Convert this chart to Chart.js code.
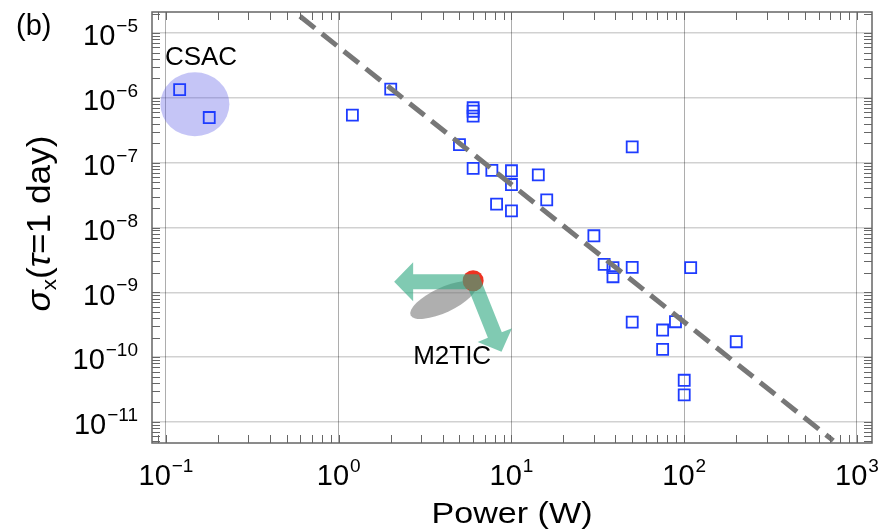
<!DOCTYPE html>
<html>
<head>
<meta charset="utf-8">
<script src="https://cdn.jsdelivr.net/npm/chart.js@4"></script>
<style>
  html, body { margin: 0; padding: 0; background: #fff; }
</style>
</head>
<body>
<canvas id="chart" width="893" height="532"></canvas>
<script>
// clock data: power (W) vs Allan deviation at tau = 1 day
const powerW = [0.12, 0.178, 1.2, 2.0, 6, 6, 6, 5, 6, 7.7, 10, 10, 14.3, 8.2, 10, 16,
                50, 30, 34.4, 38.7, 38.7, 50, 109, 50, 75, 89, 75, 200, 100, 100];
const sigmaDay = [1.34e-6, 4.97e-7, 5.4e-7, 1.36e-6, 7.03e-7, 6.22e-7, 5.21e-7, 1.9e-7, 8.15e-8, 7.6e-8,
                  7.5e-8, 4.6e-8, 6.5e-8, 2.3e-8, 1.8e-8, 2.67e-8, 1.75e-7, 7.45e-9, 2.7e-9, 2.4e-9,
                  1.74e-9, 2.43e-9, 2.4e-9, 3.48e-10, 2.62e-10, 3.52e-10, 1.32e-10, 1.73e-10, 4.4e-11, 2.62e-11];

// dashed trend line
const trendPower = [0.597, 729];
const trendSigma = [1.81e-5, 5.16e-12];

// M2TIC target and its spread
const m2ticPower = [6.0];
const m2ticSigma = [1.51e-9];
const spreadPower = [4.03];
const spreadSigma = [7.6e-10];

// CSAC group
const csacPower = [0.147];
const csacSigma = [7.96e-7];

// axis decades and labels
const xDecades = [0.1, 1, 10, 100, 1000];
const xExponents = ['\u22121', '0', '1', '2', '3'];
const yDecades = [1e-5, 1e-6, 1e-7, 1e-8, 1e-9, 1e-10, 1e-11];
const yExponents = ['\u22125', '\u22126', '\u22127', '\u22128', '\u22129', '\u221210', '\u221211'];

const FONT = '"Liberation Sans", Arial, sans-serif';

function minorValues(min, max) {
    const out = [];
    for (let e = Math.floor(Math.log10(min)); e <= Math.ceil(Math.log10(max)); e++) {
        for (let m = 1; m <= 9; m++) {
            const v = m * Math.pow(10, e);
            if (v >= min && v <= max) out.push(v);
        }
    }
    return out;
}

// arrow polygon, same winding for every direction
function arrowPath(ctx, x0, y0, ux, uy, back, len, headLen, shaftHalf, headHalf) {
    const px = -uy, py = ux;
    const pt = (a, b) => [x0 + ux * a + px * b, y0 + uy * a + py * b];
    const pts = [
        pt(-back, -shaftHalf), pt(len - headLen, -shaftHalf), pt(len - headLen, -headHalf),
        pt(len, 0), pt(len - headLen, headHalf), pt(len - headLen, shaftHalf), pt(-back, shaftHalf)
    ];
    ctx.moveTo(pts[0][0], pts[0][1]);
    for (let i = 1; i < pts.length; i++) ctx.lineTo(pts[i][0], pts[i][1]);
    ctx.closePath();
}

const decorations = {
    id: 'decorations',
    beforeDatasetsDraw(chart) {
        const {ctx, chartArea, scales: {x, y}} = chart;
        ctx.save();
        ctx.beginPath();
        ctx.rect(chartArea.left, chartArea.top, chartArea.right - chartArea.left, chartArea.bottom - chartArea.top);
        ctx.clip();
        // CSAC blob
        ctx.fillStyle = 'rgba(90,90,230,0.35)';
        ctx.beginPath();
        ctx.ellipse(x.getPixelForValue(csacPower[0]), y.getPixelForValue(csacSigma[0]), 34.5, 32, 0, 0, Math.PI * 2);
        ctx.fill();
        // M2TIC spread
        ctx.fillStyle = 'rgba(110,110,110,0.55)';
        ctx.beginPath();
        ctx.ellipse(x.getPixelForValue(spreadPower[0]), y.getPixelForValue(spreadSigma[0]), 36, 12.5, -25 * Math.PI / 180, 0, Math.PI * 2);
        ctx.fill();
        ctx.restore();
    },
    afterDatasetsDraw(chart) {
        const {ctx, scales: {x, y}} = chart;
        const ax = x.getPixelForValue(m2ticPower[0]);
        const ay = y.getPixelForValue(m2ticSigma[0]);
        ctx.save();
        ctx.fillStyle = 'rgba(50,170,130,0.62)';
        ctx.beginPath();
        arrowPath(ctx, ax, ay + 1, -1, 0, 4, 79, 19, 7.5, 19.5);
        arrowPath(ctx, ax, ay, 0.371, 0.928, 4, 76.5, 18, 7.5, 18.5);
        ctx.fill('nonzero');
        ctx.restore();
    },
    afterDraw(chart) {
        const {ctx, chartArea: a, scales: {x, y}} = chart;
        ctx.save();

        // minor ticks on all four sides
        ctx.strokeStyle = '#666';
        ctx.lineWidth = 1;
        ctx.beginPath();
        minorValues(x.min, x.max).forEach(v => {
            const px = Math.round(x.getPixelForValue(v)) + 0.5;
            ctx.moveTo(px, a.bottom); ctx.lineTo(px, a.bottom - 8);
            ctx.moveTo(px, a.top); ctx.lineTo(px, a.top + 8);
        });
        minorValues(y.min, y.max).forEach(v => {
            const py = Math.round(y.getPixelForValue(v)) + 0.5;
            ctx.moveTo(a.left, py); ctx.lineTo(a.left + 8, py);
            ctx.moveTo(a.right, py); ctx.lineTo(a.right - 8, py);
        });
        ctx.stroke();

        // frame
        ctx.strokeStyle = '#666';
        ctx.lineWidth = 1.5;
        ctx.strokeRect(a.left, a.top, a.right - a.left, a.bottom - a.top);

        ctx.fillStyle = '#000';
        ctx.textBaseline = 'alphabetic';

        // x tick labels
        xDecades.forEach((v, i) => {
            const px = x.getPixelForValue(v);
            ctx.font = '29px ' + FONT;
            const w1 = ctx.measureText('10').width;
            ctx.font = '19px ' + FONT;
            const w2 = ctx.measureText(xExponents[i]).width;
            const left = px - (w1 + 1 + w2) / 2;
            ctx.textAlign = 'left';
            ctx.font = '29px ' + FONT;
            ctx.fillText('10', left, 485);
            ctx.font = '19px ' + FONT;
            ctx.fillText(xExponents[i], left + w1 + 1, 471.5);
        });

        // y tick labels
        yDecades.forEach((v, i) => {
            const py = y.getPixelForValue(v);
            ctx.font = '19px ' + FONT;
            const w2 = ctx.measureText(yExponents[i]).width;
            ctx.textAlign = 'right';
            ctx.fillText(yExponents[i], 138, py - 1);
            ctx.font = '29px ' + FONT;
            ctx.fillText('10', 138 - w2 - 1, py + 12.3);
        });

        // x title
        ctx.font = '29px ' + FONT;
        const xt = 'Power (W)';
        const xw = ctx.measureText(xt).width;
        ctx.save();
        ctx.translate((a.left + a.right) / 2, 523);
        ctx.scale(161 / xw, 1);
        ctx.textAlign = 'center';
        ctx.fillText(xt, 0, 0);
        ctx.restore();

        // y title: sigma_x(tau=1 day)
        const parts = [
            {t: '\u03c3', f: 'italic 33px ' + FONT, dy: 0},
            {t: 'x', f: '21px ' + FONT, dy: 6},
            {t: '(', f: '33px ' + FONT, dy: 0},
            {t: '\u03c4', f: 'italic 33px ' + FONT, dy: 0},
            {t: '=1 day)', f: '33px ' + FONT, dy: 0}
        ];
        let total = 0;
        parts.forEach(p => { ctx.font = p.f; p.w = ctx.measureText(p.t).width; total += p.w; });
        ctx.save();
        ctx.translate(50, 223.5);
        ctx.rotate(-Math.PI / 2);
        ctx.scale(176 / total, 1);
        ctx.textAlign = 'left';
        let cx = -total / 2;
        parts.forEach(p => { ctx.font = p.f; ctx.fillText(p.t, cx, p.dy); cx += p.w; });
        ctx.restore();

        // panel letter and annotations
        ctx.textAlign = 'left';
        ctx.font = '29px ' + FONT;
        ctx.fillText('(b)', 16, 35);
        ctx.font = '26px ' + FONT;
        ctx.fillText('CSAC', x.getPixelForValue(csacPower[0]) - 30, y.getPixelForValue(csacSigma[0]) - 39);
        ctx.fillText('M2TIC', x.getPixelForValue(m2ticPower[0]) - 60, y.getPixelForValue(m2ticSigma[0]) + 83);

        ctx.restore();
    }
};

new Chart(document.getElementById('chart').getContext('2d'), {
    type: 'scatter',
    data: {
        datasets: [
            {
                label: 'Trend',
                type: 'line',
                data: trendPower.map((p, i) => ({x: p, y: trendSigma[i]})),
                borderColor: '#777777',
                borderWidth: 5,
                borderDash: [19, 9],
                pointRadius: 0,
                fill: false,
                order: 0
            },
            {
                label: 'Clocks',
                data: powerW.map((p, i) => ({x: p, y: sigmaDay[i]})),
                pointStyle: 'rect',
                pointRadius: 7.8,
                borderColor: '#1e3cff',
                borderWidth: 1.8,
                backgroundColor: 'rgba(0,0,0,0)',
                order: 1
            },
            {
                label: 'M2TIC',
                data: m2ticPower.map((p, i) => ({x: p, y: m2ticSigma[i]})),
                pointStyle: 'circle',
                pointRadius: 10.5,
                borderWidth: 0,
                backgroundColor: '#ee3322',
                order: 2
            }
        ]
    },
    options: {
        responsive: false,
        animation: false,
        layout: {padding: {left: 152, right: 21, top: 12, bottom: 89}},
        plugins: {
            legend: {display: false},
            tooltip: {enabled: false}
        },
        scales: {
            x: {
                type: 'logarithmic',
                bounds: 'data',
                min: 0.083,
                max: 1222,
                afterBuildTicks: s => { s.ticks = xDecades.map(v => ({value: v})); },
                ticks: {display: false},
                grid: {color: 'rgba(0,0,0,0.32)', lineWidth: 1, drawTicks: false},
                border: {display: false}
            },
            y: {
                type: 'logarithmic',
                bounds: 'data',
                min: 4.74e-12,
                max: 2.11e-5,
                afterBuildTicks: s => { s.ticks = yDecades.map(v => ({value: v})); },
                ticks: {display: false},
                grid: {color: 'rgba(0,0,0,0.18)', lineWidth: 1.5, drawTicks: false},
                border: {display: false}
            }
        }
    },
    plugins: [decorations]
});
</script>
</body>
</html>
